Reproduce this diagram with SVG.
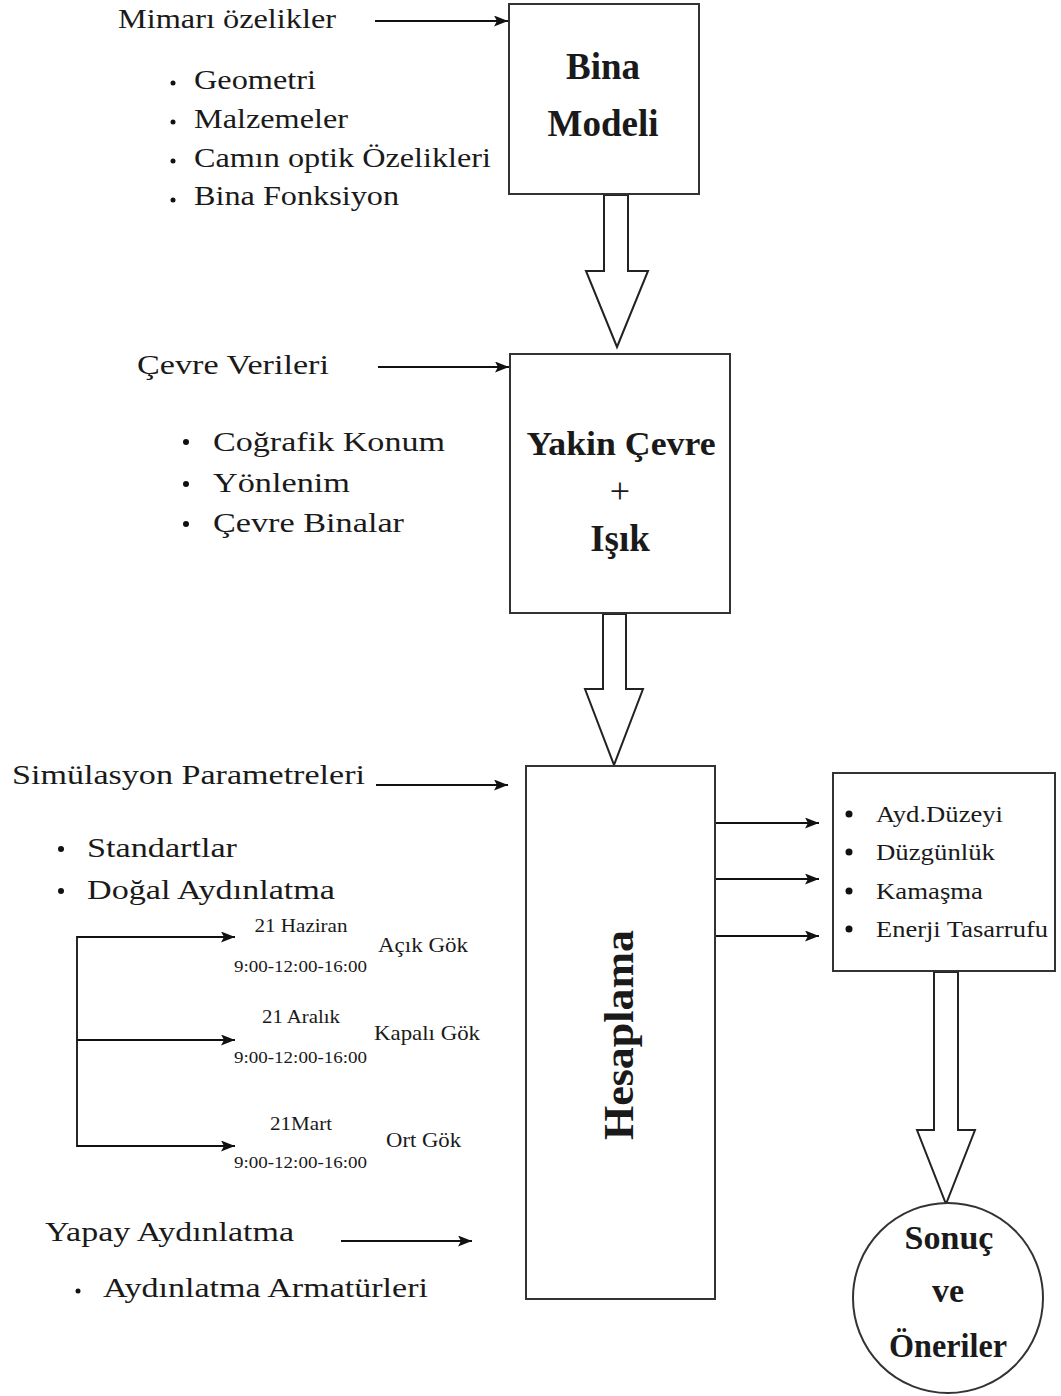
<svg xmlns="http://www.w3.org/2000/svg" width="1061" height="1396" viewBox="0 0 1061 1396">
<defs>
<marker id="ah" viewBox="0 0 14 11" refX="14" refY="5.5" markerWidth="14" markerHeight="11" markerUnits="userSpaceOnUse" orient="auto">
<path d="M0,0 L14,5.5 L0,11 L3,5.5 Z" fill="#111"/>
</marker>
<style>
text{font-family:"Liberation Serif","Times New Roman",serif;fill:#1a1a1a}
.t{font-size:28px}
.b{font-size:37px;font-weight:bold;text-anchor:middle}
.c{font-size:34px;font-weight:bold;text-anchor:middle}
.s{font-size:18px}
.d{font-size:17px}
.g{font-size:21px}
.r{font-size:23px}
.box{fill:#fff;stroke:#333;stroke-width:2}
.ln{fill:none;stroke:#111;stroke-width:1.8}
.hol{fill:#fff;stroke:#222;stroke-width:2;stroke-linejoin:miter}
.dot{fill:#111}
</style>
</defs>
<rect width="1061" height="1396" fill="#fff"/>

<g id="connectors">
<line class="ln" x1="375" y1="21" x2="508" y2="21" marker-end="url(#ah)"/>
<line class="ln" x1="378" y1="367" x2="509" y2="367" marker-end="url(#ah)"/>
<line class="ln" x1="376" y1="785" x2="508" y2="785" marker-end="url(#ah)"/>
<line class="ln" x1="341" y1="1241" x2="472" y2="1241" marker-end="url(#ah)"/>
<polyline class="ln" points="235,937 77,937 77,1146 235,1146" marker-end="url(#ah)"/>
<line class="ln" x1="77" y1="937" x2="235" y2="937" marker-end="url(#ah)"/>
<line class="ln" x1="77" y1="1040" x2="235" y2="1040" marker-end="url(#ah)"/>
<line class="ln" x1="716" y1="823" x2="819" y2="823" marker-end="url(#ah)"/>
<line class="ln" x1="716" y1="879" x2="819" y2="879" marker-end="url(#ah)"/>
<line class="ln" x1="716" y1="936" x2="819" y2="936" marker-end="url(#ah)"/>
<path class="hol" d="M604,195 L628,195 L628,271 L648,271 L617,347 L586,271 L604,271 Z"/>
<path class="hol" d="M603,614 L626,614 L626,689 L643,689 L614,765 L585,689 L603,689 Z"/>
<path class="hol" d="M934,972 L958,972 L958,1130 L975,1130 L946,1204 L917,1130 L934,1130 Z"/>
</g>

<g id="mimari">
<text class="t" x="118" y="28" textLength="218" lengthAdjust="spacingAndGlyphs">Mimarı özelikler</text>
<circle class="dot" cx="173" cy="83" r="2.5"/>
<circle class="dot" cx="173" cy="122" r="2.5"/>
<circle class="dot" cx="173" cy="161" r="2.5"/>
<circle class="dot" cx="173" cy="200" r="2.5"/>
<text class="t" x="194" y="89" textLength="122" lengthAdjust="spacingAndGlyphs">Geometri</text>
<text class="t" x="194" y="128" textLength="154" lengthAdjust="spacingAndGlyphs">Malzemeler</text>
<text class="t" x="194" y="167" textLength="297" lengthAdjust="spacingAndGlyphs">Camın optik Özelikleri</text>
<text class="t" x="194" y="205" textLength="205" lengthAdjust="spacingAndGlyphs">Bina Fonksiyon</text>
</g>

<g id="bina-modeli">
<rect class="box" x="509" y="4" width="190" height="190"/>
<text class="b" x="603" y="79">Bina</text>
<text class="b" x="603" y="136">Modeli</text>
</g>

<g id="cevre">
<text class="t" x="137" y="374" textLength="192" lengthAdjust="spacingAndGlyphs">Çevre Verileri</text>
<circle class="dot" cx="186" cy="442" r="3"/>
<circle class="dot" cx="186" cy="484" r="3"/>
<circle class="dot" cx="186" cy="524" r="3"/>
<text class="t" x="213" y="451" textLength="232" lengthAdjust="spacingAndGlyphs">Coğrafik Konum</text>
<text class="t" x="213" y="492" textLength="137" lengthAdjust="spacingAndGlyphs">Yönlenim</text>
<text class="t" x="213" y="532" textLength="191" lengthAdjust="spacingAndGlyphs">Çevre Binalar</text>
</g>

<g id="yakin-cevre">
<rect class="box" x="510" y="354" width="220" height="259"/>
<text class="c" x="621" y="455" textLength="189" lengthAdjust="spacingAndGlyphs">Yakin Çevre</text>
<text x="620" y="503" style="font-size:36px;text-anchor:middle">+</text>
<text class="b" x="620" y="551">Işık</text>
</g>

<g id="simulasyon">
<text class="t" x="12" y="784" textLength="353" lengthAdjust="spacingAndGlyphs">Simülasyon Parametreleri</text>
<circle class="dot" cx="61" cy="849" r="3"/>
<circle class="dot" cx="61" cy="891" r="3"/>
<text class="t" x="87" y="857" textLength="150" lengthAdjust="spacingAndGlyphs">Standartlar</text>
<text class="t" x="87" y="899" textLength="248" lengthAdjust="spacingAndGlyphs">Doğal Aydınlatma</text>
</g>

<g id="tarihler">
<text class="s" x="301" y="932" text-anchor="middle" textLength="93" lengthAdjust="spacingAndGlyphs">21 Haziran</text>
<text class="d" x="234" y="972" textLength="133" lengthAdjust="spacingAndGlyphs">9:00-12:00-16:00</text>
<text class="g" x="378" y="952" textLength="90" lengthAdjust="spacingAndGlyphs">Açık Gök</text>
<text class="s" x="301" y="1023" text-anchor="middle" textLength="78" lengthAdjust="spacingAndGlyphs">21 Aralık</text>
<text class="d" x="234" y="1063" textLength="133" lengthAdjust="spacingAndGlyphs">9:00-12:00-16:00</text>
<text class="g" x="374" y="1040" textLength="106" lengthAdjust="spacingAndGlyphs">Kapalı Gök</text>
<text class="s" x="301" y="1130" text-anchor="middle" textLength="62" lengthAdjust="spacingAndGlyphs">21Mart</text>
<text class="d" x="234" y="1168" textLength="133" lengthAdjust="spacingAndGlyphs">9:00-12:00-16:00</text>
<text class="g" x="386" y="1147" textLength="75" lengthAdjust="spacingAndGlyphs">Ort Gök</text>
</g>

<g id="yapay">
<text class="t" x="45" y="1241" textLength="249" lengthAdjust="spacingAndGlyphs">Yapay Aydınlatma</text>
<circle class="dot" cx="78" cy="1291" r="2.5"/>
<text class="t" x="103" y="1297" textLength="325" lengthAdjust="spacingAndGlyphs">Aydınlatma Armatürleri</text>
</g>

<g id="hesaplama">
<rect class="box" x="526" y="766" width="189" height="533"/>
<text transform="translate(633,1035) rotate(-90)" style="font-size:42px;font-weight:bold;text-anchor:middle" textLength="210" lengthAdjust="spacingAndGlyphs">Hesaplama</text>
</g>

<g id="sonuclar">
<rect class="box" x="833" y="773" width="222" height="198"/>
<circle class="dot" cx="849" cy="814" r="3.5"/>
<circle class="dot" cx="849" cy="852" r="3.5"/>
<circle class="dot" cx="849" cy="891" r="3.5"/>
<circle class="dot" cx="849" cy="929" r="3.5"/>
<text class="r" x="876" y="822" textLength="127" lengthAdjust="spacingAndGlyphs">Ayd.Düzeyi</text>
<text class="r" x="876" y="860" textLength="119" lengthAdjust="spacingAndGlyphs">Düzgünlük</text>
<text class="r" x="876" y="899" textLength="107" lengthAdjust="spacingAndGlyphs">Kamaşma</text>
<text class="r" x="876" y="937" textLength="172" lengthAdjust="spacingAndGlyphs">Enerji Tasarrufu</text>
</g>

<g id="sonuc-oneriler">
<circle class="box" cx="948" cy="1298" r="95"/>
<text class="c" x="949" y="1249">Sonuç</text>
<text class="c" x="948" y="1302">ve</text>
<text class="c" x="948" y="1357" textLength="118" lengthAdjust="spacingAndGlyphs">Öneriler</text>
</g>
</svg>
